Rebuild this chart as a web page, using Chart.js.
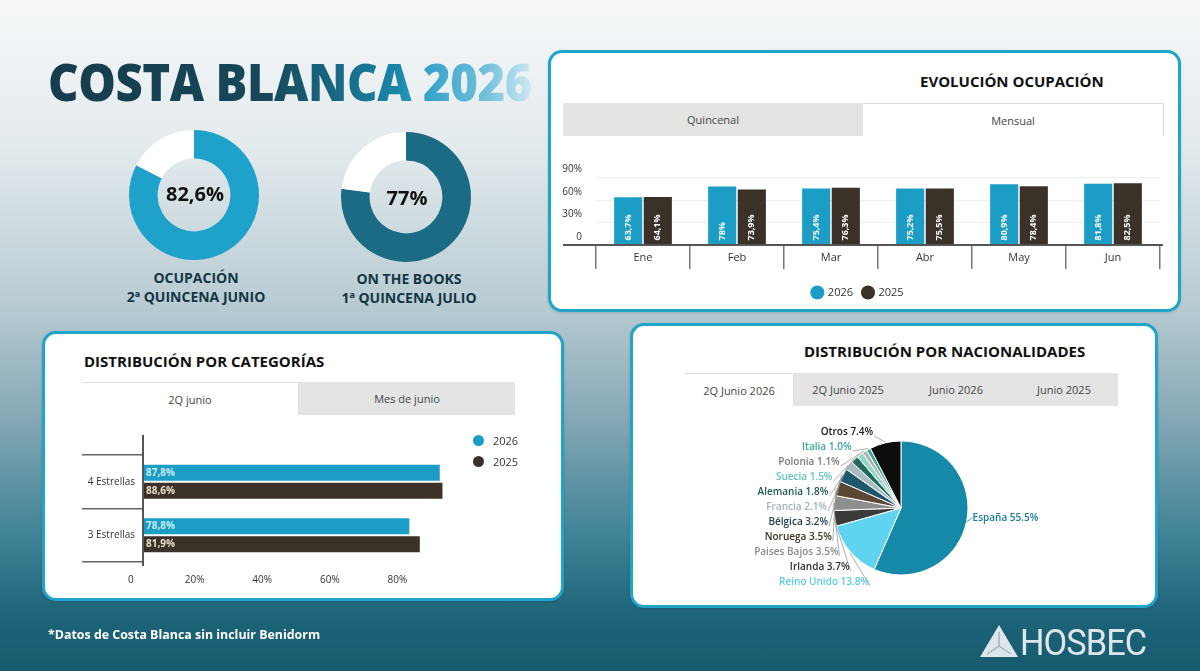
<!DOCTYPE html>
<html lang="es">
<head>
<meta charset="utf-8">
<title>Costa Blanca 2026</title>
<script src="https://cdn.jsdelivr.net/npm/chart.js@4.4.1/dist/chart.umd.min.js"></script>
<style>
  html, body { margin: 0; padding: 0; }
  body { width: 1200px; height: 671px; overflow: hidden; font-family: "Open Sans", "DejaVu Sans", sans-serif; }
  #stage {
    position: relative; width: 1200px; height: 671px; overflow: hidden;
    background: linear-gradient(180deg, #f6f8f9 0%, #e3eaed 22%, #b9ccd3 45%, #86a9b6 62%, #3f8296 80%, #1d6478 92%, #175a6e 100%);
  }
  .abs { position: absolute; }
  .fit { white-space: nowrap; transform-origin: 0 0; }
  .panel { position: absolute; background: #fff; border: 3px solid #1fa4ca; border-radius: 14px; box-sizing: border-box; box-shadow: 0 1px 3px rgba(0,0,0,0.15); }
  .title { font-weight: 800; font-size: 52px; line-height: 1; letter-spacing: -0.5px;
           background: linear-gradient(90deg, #153c4c 0%, #174759 45%, #1a85a8 72%, #2f9fc6 77%, #6ebfda 90%, #cfe9f1 100%);
           -webkit-background-clip: text; background-clip: text; color: transparent; }
  .kpi { font-weight: 700; font-size: 20px; color: #111; text-align: center; width: 120px; }
  .kpilbl { font-weight: 700; font-size: 14px; color: #143644; text-align: center; line-height: 19px; width: 200px; }
  .ptitle { font-weight: 700; font-size: 15px; color: #111; }
  .tabs { position: absolute; display: flex; background: #e4e4e4; }
  .tab { flex: 1; display: flex; align-items: center; justify-content: center; font-size: 11px; color: #444; }
  .tab.on { background: #fff; border-top: 1px solid #ddd; border-right: 1px solid #ddd; }
  .lg { font-size: 11px; color: #333; display: flex; align-items: center; height: 21px; }
  .dot { width: 11px; height: 11px; border-radius: 50%; margin-right: 9px; }
  .foot { color: #fff; font-weight: 700; font-size: 13px; }
  .logo { color: #dde6ea; font-family: Roboto, sans-serif; font-weight: 400; font-size: 36px; line-height: 1; letter-spacing: -1px; }
</style>
</head>
<body>
<div id="stage">
  <div class="abs fit title" id="mainTitle" data-w="484" style="left:48px; top:55px;">COSTA BLANCA 2026</div>

  <canvas class="abs" id="donut1" width="130" height="130" style="left:129px; top:130px;"></canvas>
  <div class="abs kpi" style="left:135px; top:180px;" id="kpi1"></div>
  <div class="abs kpilbl" style="left:96px; top:268px;">OCUPACIÓN<br>2ª QUINCENA JUNIO</div>

  <canvas class="abs" id="donut2" width="130" height="130" style="left:341px; top:132px;"></canvas>
  <div class="abs kpi" style="left:347px; top:184px;" id="kpi2"></div>
  <div class="abs kpilbl" style="left:309px; top:269px;">ON THE BOOKS<br>1ª QUINCENA JULIO</div>

  <!-- Evolucion ocupacion -->
  <div class="panel" style="left:548px; top:50px; width:633px; height:262px;"></div>
  <div class="abs ptitle" style="left:920px; top:71px;">EVOLUCIÓN OCUPACIÓN</div>
  <div class="tabs" style="left:563px; top:103px; width:601px; height:33px;">
    <div class="tab">Quincenal</div><div class="tab on">Mensual</div>
  </div>
  <canvas class="abs" id="evolChart" width="614" height="160" style="left:556px; top:150px;"></canvas>

  <!-- Categorias -->
  <div class="panel" style="left:42px; top:331px; width:522px; height:270px;"></div>
  <div class="abs ptitle" style="left:84px; top:351px;">DISTRIBUCIÓN POR CATEGORÍAS</div>
  <div class="tabs" style="left:82px; top:382px; width:433px; height:33px;">
    <div class="tab on">2Q junio</div><div class="tab">Mes de junio</div>
  </div>
  <canvas class="abs" id="catChart" width="430" height="162" style="left:60px; top:425px;"></canvas>
  <div class="abs" id="catLegend" style="left:473px; top:430px;"></div>

  <!-- Nacionalidades -->
  <div class="panel" style="left:630px; top:323px; width:528px; height:285px;"></div>
  <div class="abs ptitle" style="left:804px; top:341px;">DISTRIBUCIÓN POR NACIONALIDADES</div>
  <div class="tabs" style="left:685px; top:373px; width:433px; height:33px;">
    <div class="tab on">2Q Junio 2026</div><div class="tab">2Q Junio 2025</div><div class="tab">Junio 2026</div><div class="tab">Junio 2025</div>
  </div>
  <canvas class="abs" id="pieChart" width="330" height="184" style="left:736px; top:416px;"></canvas>

  <div class="abs fit foot" data-w="272" style="left:48px; top:625px;">*Datos de Costa Blanca sin incluir Benidorm</div>
  <svg class="abs" width="40" height="34" style="left:979px; top:624px;" viewBox="0 0 40 34">
    <polygon points="20,1 39,33 1,33" fill="#dde6ea"/>
    <polyline points="20,8 20,22 8,30" fill="none" stroke="#9fb6c0" stroke-width="1.5"/>
    <polyline points="20,22 32,30" fill="none" stroke="#9fb6c0" stroke-width="1.5"/>
  </svg>
  <div class="abs fit logo" data-w="126" style="left:1020px; top:625px;">HOSBEC</div>
</div>

<script>
// ---- datos ----
const OCUPACION_2Q_JUNIO = 82.6;
const ON_THE_BOOKS_1Q_JULIO = 77;

const MESES = ['Ene', 'Feb', 'Mar', 'Abr', 'May', 'Jun'];
const OCUP_2026 = [63.7, 78, 75.4, 75.2, 80.9, 81.8];
const OCUP_2025 = [64.1, 73.9, 76.3, 75.5, 78.4, 82.5];
const EVOL_TICKS = [0, 30, 60, 90];

const CATEGORIAS = ['4 Estrellas', '3 Estrellas'];
const CAT_2026 = [87.8, 78.8];
const CAT_2025 = [88.6, 81.9];
const CAT_TICKS = [0, 20, 40, 60, 80];

const PAISES = ['España', 'Reino Unido', 'Irlanda', 'Paises Bajos', 'Noruega', 'Bélgica',
                'Francia', 'Alemania', 'Suecia', 'Polonia', 'Italia', 'Otros'];
const PAIS_PCT = [55.5, 13.8, 3.7, 3.5, 3.5, 3.2, 2.1, 1.8, 1.5, 1.1, 1.0, 7.4];

const SERIES = ['2026', '2025'];

// ---- estilos ----
const C26 = '#1b9dc6';
const C25 = '#3a3128';
const PAIS_COLORS = ['#1688a8', '#5fd3f0', '#3a3a3a', '#8e8e8e', '#5a4832', '#1e566c',
                     '#a9bcc6', '#1f6a5c', '#8fd8c8', '#b4b4b4', '#3aa898', '#0d0d0d'];
const PAIS_TEXT = ['#1a7a98', '#5ccbe8', '#2e2e2e', '#8a8a8a', '#3b3122', '#1b3b4c',
                   '#9fb3be', '#1d5a58', '#5fc6b8', '#7a7a7a', '#3aa898', '#1a1a1a'];
const FONT = '"Open Sans", "DejaVu Sans", sans-serif';

Chart.defaults.font.family = FONT;
Chart.defaults.animation = false;
Chart.defaults.responsive = false;

const esPct = v => v.toLocaleString('es-ES') + '%';

// ---- donuts ----
function donut(id, value, color) {
    new Chart(document.getElementById(id), {
        type: 'doughnut',
        data: { datasets: [{ data: [value, 100 - value], backgroundColor: [color, '#ffffff'], borderWidth: 0 }] },
        options: { cutout: '56%', plugins: { legend: { display: false }, tooltip: { enabled: false } } }
    });
}
donut('donut1', OCUPACION_2Q_JUNIO, '#1fa2c9');
donut('donut2', ON_THE_BOOKS_1Q_JULIO, '#1a6b83');
document.getElementById('kpi1').textContent = esPct(OCUPACION_2Q_JUNIO);
document.getElementById('kpi2').textContent = esPct(ON_THE_BOOKS_1Q_JULIO);

// ---- evolucion ocupacion ----
const verticalBarLabels = {
    id: 'verticalBarLabels',
    afterDatasetsDraw(chart) {
        const ctx = chart.ctx;
        ctx.save();
        ctx.font = 'bold 9px ' + FONT;
        ctx.fillStyle = '#ffffff';
        ctx.textAlign = 'left';
        ctx.textBaseline = 'middle';
        chart.data.datasets.forEach((ds, di) => {
            chart.getDatasetMeta(di).data.forEach((bar, i) => {
                ctx.save();
                ctx.translate(bar.x, bar.base - 4);
                ctx.rotate(-Math.PI / 2);
                ctx.fillText(esPct(ds.data[i]), 0, 0);
                ctx.restore();
            });
        });
        ctx.restore();
    }
};

const evolAxisLine = {
    id: 'evolAxisLine',
    afterDatasetsDraw(chart) {
        const { ctx, chartArea } = chart;
        ctx.save();
        ctx.strokeStyle = '#555';
        ctx.lineWidth = 2;
        ctx.beginPath();
        ctx.moveTo(7, chartArea.bottom);
        ctx.lineTo(chartArea.right + 3, chartArea.bottom);
        ctx.stroke();
        ctx.restore();
    }
};

new Chart(document.getElementById('evolChart'), {
    type: 'bar',
    data: {
        labels: MESES,
        datasets: [
            { label: SERIES[0], data: OCUP_2026, backgroundColor: C26 },
            { label: SERIES[1], data: OCUP_2025, backgroundColor: C25 }
        ]
    },
    options: {
        layout: { padding: { top: 18, right: 10, left: 0, bottom: 2 } },
        datasets: { bar: { categoryPercentage: 0.63, barPercentage: 0.95 } },
        plugins: {
            legend: {
                position: 'bottom',
                labels: { usePointStyle: true, pointStyle: 'circle', boxWidth: 10, boxHeight: 10, padding: 10, color: '#333', font: { size: 11 } }
            },
            tooltip: { enabled: false }
        },
        scales: {
            x: {
                grid: { offset: true, drawOnChartArea: false, tickLength: 24, color: '#777', lineWidth: 1.5 },
                border: { display: false },
                ticks: { padding: -18, color: '#333', font: { size: 11 } },
                afterFit: s => { s.height = 32; }
            },
            y: {
                min: 0, max: 100,
                afterBuildTicks: s => { s.ticks = EVOL_TICKS.map(v => ({ value: v })); },
                afterFit: s => { s.width = 40; },
                grid: { color: '#eeeeee', drawTicks: false },
                border: { display: false },
                ticks: { labelOffset: -8, padding: 14, color: '#333', font: { size: 10 }, callback: v => v === 0 ? '0' : v + '%' }
            }
        }
    },
    plugins: [verticalBarLabels, evolAxisLine]
});

// ---- categorias ----
const hBarLabels = {
    id: 'hBarLabels',
    afterDatasetsDraw(chart) {
        const ctx = chart.ctx;
        const textColors = ['#c8eefa', '#eadfcc'];
        ctx.save();
        ctx.font = 'bold 10px ' + FONT;
        ctx.textAlign = 'left';
        ctx.textBaseline = 'middle';
        chart.data.datasets.forEach((ds, di) => {
            ctx.fillStyle = textColors[di];
            chart.getDatasetMeta(di).data.forEach((bar, i) => {
                ctx.fillText(esPct(ds.data[i]), bar.base + 3, bar.y);
            });
        });
        ctx.restore();
    }
};

const catAxisLine = {
    id: 'catAxisLine',
    afterDatasetsDraw(chart) {
        const { ctx, chartArea } = chart;
        ctx.save();
        ctx.strokeStyle = '#555';
        ctx.lineWidth = 2;
        ctx.beginPath();
        ctx.moveTo(chartArea.left, chartArea.top - 20);
        ctx.lineTo(chartArea.left, chartArea.bottom + 4);
        ctx.stroke();
        ctx.restore();
    }
};

new Chart(document.getElementById('catChart'), {
    type: 'bar',
    data: {
        labels: CATEGORIAS,
        datasets: [
            { label: SERIES[0], data: CAT_2026, backgroundColor: C26 },
            { label: SERIES[1], data: CAT_2025, backgroundColor: C25 }
        ]
    },
    options: {
        indexAxis: 'y',
        layout: { padding: { top: 30, right: 9, left: 0, bottom: 0 } },
        datasets: { bar: { categoryPercentage: 0.67, barPercentage: 0.89 } },
        plugins: { legend: { display: false }, tooltip: { enabled: false } },
        scales: {
            x: {
                min: 0, max: 100,
                afterBuildTicks: s => { s.ticks = CAT_TICKS.map(v => ({ value: v })); },
                afterFit: s => { s.height = 25; },
                grid: { display: false },
                border: { display: false },
                ticks: { labelOffset: -16, padding: 4, color: '#333', font: { size: 10 }, callback: v => v === 0 ? '   0' : v + '%' }
            },
            y: {
                afterFit: s => { s.width = 83; },
                grid: { offset: true, drawOnChartArea: false, tickLength: 61, color: '#666', lineWidth: 1.5 },
                border: { display: false },
                ticks: { padding: -53, color: '#333', font: { size: 10 } }
            }
        }
    },
    plugins: [hBarLabels, catAxisLine]
});

// leyenda categorias
document.getElementById('catLegend').innerHTML = SERIES.map((s, i) =>
    '<div class="lg"><span class="dot" style="background:' + [C26, C25][i] + '"></span>' + s + '</div>').join('');

// ---- nacionalidades ----
const pieLabels = {
    id: 'pieLabels',
    afterDraw(chart) {
        const ctx = chart.ctx;
        const arcs = chart.getDatasetMeta(0).data;
        const cx = arcs[0].x, cy = arcs[0].y, r = arcs[0].outerRadius;
        ctx.save();
        ctx.font = '600 10px ' + FONT;
        ctx.textBaseline = 'middle';
        ctx.lineWidth = 0.8;

        // España a la derecha
        const a0 = arcs[0];
        const m0 = (a0.startAngle + a0.endAngle) / 2;
        const ex = cx + Math.cos(m0) * r, ey = cy + Math.sin(m0) * r;
        ctx.strokeStyle = PAIS_COLORS[0];
        ctx.beginPath();
        ctx.moveTo(ex, ey);
        ctx.lineTo(ex + 6, ey - 4);
        ctx.stroke();
        ctx.fillStyle = PAIS_TEXT[0];
        ctx.textAlign = 'left';
        ctx.fillText(PAISES[0] + ' ' + PAIS_PCT[0].toFixed(1) + '%', ex + 6, ey - 4);

        // resto en columna a la izquierda, de arriba abajo
        const order = PAISES.map((p, i) => i).slice(1).reverse();
        ctx.textAlign = 'right';
        order.forEach((idx, k) => {
            const y = cy - 76 + k * 15;
            const dy = y - cy;
            const xe = cx - 74 * Math.sqrt(Math.max(0, 1 - (dy / 82) * (dy / 82)));
            const a = arcs[idx];
            const mid = (a.startAngle + a.endAngle) / 2;
            const px = cx + Math.cos(mid) * (r + 1);
            const py = cy + Math.sin(mid) * (r + 1);
            ctx.strokeStyle = '#9a9a9a';
            ctx.beginPath();
            ctx.moveTo(xe + 1, y + 4);
            ctx.lineTo(px, py);
            ctx.stroke();
            ctx.fillStyle = PAIS_TEXT[idx];
            ctx.fillText(PAISES[idx] + ' ' + PAIS_PCT[idx].toFixed(1) + '%', xe, y);
        });
        ctx.restore();
    }
};

new Chart(document.getElementById('pieChart'), {
    type: 'pie',
    data: {
        labels: PAISES,
        datasets: [{ data: PAIS_PCT, backgroundColor: PAIS_COLORS, borderColor: '#ffffff', borderWidth: 1 }]
    },
    options: {
        radius: 67,
        plugins: { legend: { display: false }, tooltip: { enabled: false } }
    },
    plugins: [pieLabels]
});

// ajustar anchos de textos condensados
document.querySelectorAll('.fit').forEach(el => {
    const target = parseFloat(el.dataset.w);
    const w = el.scrollWidth;
    if (w > 0) el.style.transform = 'scaleX(' + (target / w).toFixed(3) + ')';
});
</script>
</body>
</html>
